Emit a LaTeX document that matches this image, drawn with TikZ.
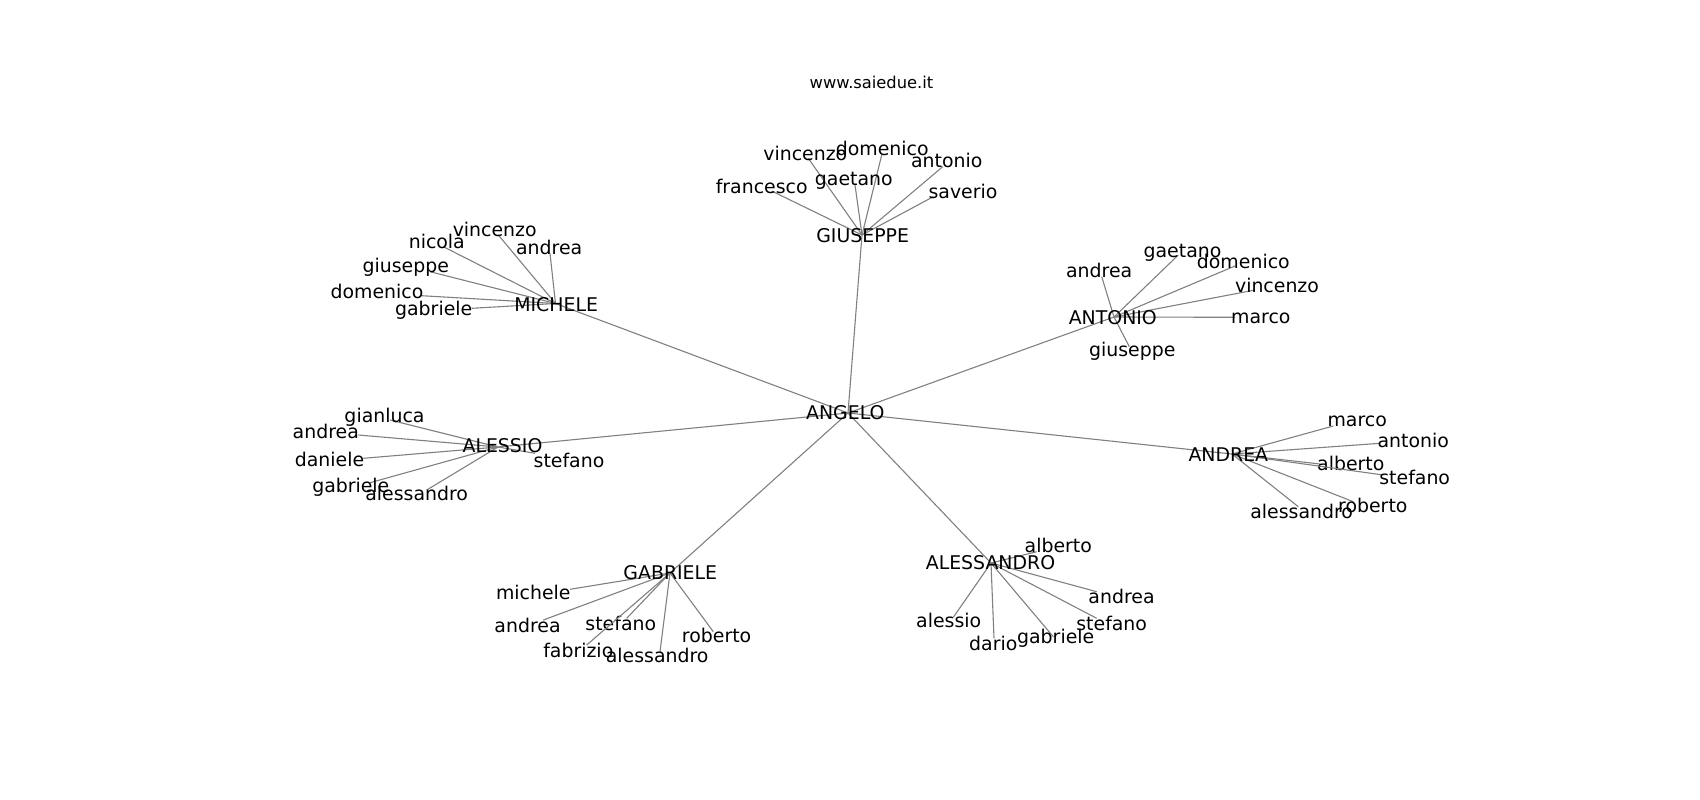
\documentclass[tikz,border=0pt]{standalone}
\usepackage{fontspec}
\setmainfont{DejaVu Sans}
\newcommand\mkleaf[7]{%
  \coordinate (#2) at (#3,#4);
  \draw[edge] (#1) -- (#2);
  \node[lbl] (#2t) at (#5,#6) {#7};
}
\begin{document}
\begin{tikzpicture}[x=1pt,y=-1pt,
  edge/.style={draw=black!50, line width=1.1pt},
  lbl/.style={inner sep=0pt, anchor=base, font=\fontsize{18.9}{22}\selectfont, text=black},
  ttl/.style={inner sep=0pt, anchor=base, font=\fontsize{16.3}{20}\selectfont, text=black}]
\useasboundingbox (0,0) rectangle (1700,800);
\node[ttl] (title) at (871.5,88.5) {www.saiedue.it};

% hubs
\coordinate (ANGp) at (848,413);
\coordinate (GIUp) at (862,235);
\coordinate (MICp) at (555.5,303.5);
\coordinate (ANTp) at (1114,317);
\coordinate (ALIp) at (498,447);
\coordinate (ANDp) at (1232,454);
\coordinate (GABp) at (670,573);
\coordinate (ALAp) at (991,563);
\foreach \h in {GIUp,MICp,ANTp,ALIp,ANDp,GABp,ALAp} \draw[edge] (ANGp) -- (\h);

% GIUSEPPE
\mkleaf{GIUp}{g1}{771.7}{191}{761.7}{193.2}{francesco}
\mkleaf{GIUp}{g2}{808.3}{158.3}{805.3}{160.5}{vincenzo}
\mkleaf{GIUp}{g3}{881.7}{155}{882.2}{155.5}{domenico}
\mkleaf{GIUp}{g4}{855}{185}{853.8}{185.5}{gaetano}
\mkleaf{GIUp}{g5}{942.7}{166.7}{946.7}{167.8}{antonio}
\mkleaf{GIUp}{g6}{933.3}{196.7}{963}{198.8}{saverio}

% MICHELE
\mkleaf{MICp}{m1}{498.3}{235}{494.7}{236.5}{vincenzo}
\mkleaf{MICp}{m2}{443.3}{246.7}{436.8}{248.8}{nicola}
\mkleaf{MICp}{m3}{550}{253.3}{549.2}{254.8}{andrea}
\mkleaf{MICp}{m4}{430}{271.7}{405.8}{272.2}{giuseppe}
\mkleaf{MICp}{m5}{421.7}{295.7}{377}{298.2}{domenico}
\mkleaf{MICp}{m6}{471.7}{308.3}{433.7}{315.5}{gabriele}

% ANTONIO
\mkleaf{ANTp}{a1}{1101.7}{276.7}{1099.2}{277.2}{andrea}
\mkleaf{ANTp}{a2}{1178.3}{255}{1182.5}{257.2}{gaetano}
\mkleaf{ANTp}{a3}{1235}{266}{1243.3}{268.2}{domenico}
\mkleaf{ANTp}{a4}{1255}{290}{1277}{292.2}{vincenzo}
\mkleaf{ANTp}{a5}{1235}{317.3}{1260.8}{323.2}{marco}
\mkleaf{ANTp}{a6}{1129.3}{346.7}{1132.2}{356.7}{giuseppe}

% ALESSIO
\mkleaf{ALIp}{l1}{390}{420}{384.5}{422.2}{gianluca}
\mkleaf{ALIp}{l2}{358.3}{435}{325.8}{438.2}{andrea}
\mkleaf{ALIp}{l3}{363.3}{458.3}{329.5}{466.5}{daniele}
\mkleaf{ALIp}{l4}{370}{482.7}{350.8}{492.2}{gabriele}
\mkleaf{ALIp}{l5}{426.7}{490}{416.7}{500.5}{alessandro}
\mkleaf{ALIp}{l6}{535}{453.3}{569}{467.2}{stefano}

% ANDREA
\mkleaf{ANDp}{d1}{1333.3}{426}{1357.2}{426.5}{marco}
\mkleaf{ANDp}{d2}{1380}{443.3}{1413.3}{447.2}{antonio}
\mkleaf{ANDp}{d3}{1320}{464}{1350.8}{470.5}{alberto}
\mkleaf{ANDp}{d4}{1383.3}{475}{1414.7}{484.5}{stefano}
\mkleaf{ANDp}{d5}{1353.3}{501.7}{1372.8}{512.2}{roberto}
\mkleaf{ANDp}{d6}{1298.3}{506.7}{1301.7}{518.8}{alessandro}

% GABRIELE
\mkleaf{GABp}{b1}{570}{589.3}{533.3}{599.5}{michele}
\mkleaf{GABp}{b2}{543.3}{620}{527.5}{632.2}{andrea}
\mkleaf{GABp}{b3}{626.7}{618.3}{620.8}{630.5}{stefano}
\mkleaf{GABp}{b4}{586.7}{645}{578.3}{657.8}{fabrizio}
\mkleaf{GABp}{b5}{660}{651.7}{657.2}{662.5}{alessandro}
\mkleaf{GABp}{b6}{713.3}{631.7}{716.6}{642.5}{roberto}

% ALESSANDRO
\mkleaf{ALAp}{s1}{1036.7}{551.7}{1058.3}{552.2}{alberto}
\mkleaf{ALAp}{s2}{1096.7}{591.7}{1121.5}{603.2}{andrea}
\mkleaf{ALAp}{s3}{953.3}{617.3}{948.7}{627.2}{alessio}
\mkleaf{ALAp}{s4}{994}{638.3}{993.3}{650.5}{dario}
\mkleaf{ALAp}{s5}{1053.3}{636.7}{1055.7}{643.8}{gabriele}
\mkleaf{ALAp}{s6}{1096.7}{618.3}{1111.7}{630.5}{stefano}

% hub labels
\node[lbl] (ANGELO) at (845.3,419.8) {ANGELO};
\node[lbl] (GIUSEPPE) at (862.7,242.2) {GIUSEPPE};
\node[lbl] (MICHELE) at (556.2,311.5) {MICHELE};
\node[lbl] (ANTONIO) at (1112.8,324.8) {ANTONIO};
\node[lbl] (ALESSIO) at (502.5,452.8) {ALESSIO};
\node[lbl] (ANDREA) at (1228.3,461.5) {ANDREA};
\node[lbl] (GABRIELE) at (670.3,579.8) {GABRIELE};
\node[lbl] (ALESSANDRO) at (990.5,569.8) {ALESSANDRO};
\end{tikzpicture}
\end{document}
